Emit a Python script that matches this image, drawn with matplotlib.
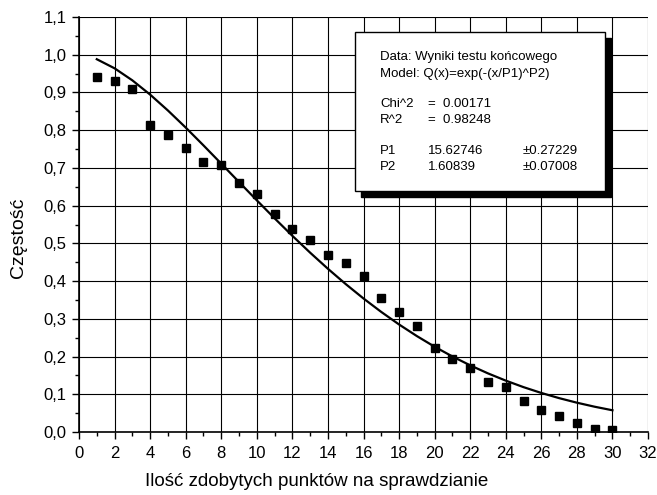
import matplotlib
matplotlib.use("Agg")
import matplotlib.pyplot as plt
from matplotlib.patches import Rectangle
from matplotlib.ticker import MultipleLocator, FuncFormatter

plt.rcParams['font.family'] = ['Liberation Sans', 'DejaVu Sans']

# measured data
x_pts = list(range(1, 31))
y_pts = [0.942, 0.930, 0.908, 0.813, 0.788, 0.752, 0.715, 0.707, 0.660, 0.632,
         0.577, 0.537, 0.508, 0.470, 0.447, 0.413, 0.355, 0.318, 0.280, 0.222,
         0.194, 0.170, 0.133, 0.120, 0.082, 0.058, 0.042, 0.025, 0.008, 0.005]

# fitted curve, read at integer x
x_fit = list(range(1, 31))
y_fit = [0.9881, 0.9640, 0.9321, 0.8943, 0.8522, 0.8070, 0.7597, 0.7113, 0.6626, 0.6141,
         0.5664, 0.5200, 0.4753, 0.4326, 0.3921, 0.3539, 0.3182, 0.2850, 0.2543, 0.2260,
         0.2002, 0.1767, 0.1554, 0.1362, 0.1189, 0.1035, 0.0898, 0.0777, 0.0670, 0.0576]

legend_lines = [
    ("Data: Wyniki testu końcowego", None, None),
    ("Model: Q(x)=exp(-(x/P1)^P2)", None, None),
    ("Chi^2", "=  0.00171", None),
    ("R^2", "=  0.98248", None),
    ("P1", "15.62746", "\u00b10.27229"),
    ("P2", "1.60839", "\u00b10.07008"),
]

W, H = 657, 495
fig = plt.figure(figsize=(W / 100, H / 100), dpi=100)
L, R, B, T = 79, 648, 432, 17
ax = fig.add_axes([L / W, 1 - B / H, (R - L) / W, (B - T) / H])

ax.set_xlim(0, 32)
ax.set_ylim(0, 1.1)
ax.xaxis.set_major_locator(MultipleLocator(2))
ax.xaxis.set_minor_locator(MultipleLocator(1))
ax.yaxis.set_major_locator(MultipleLocator(0.1))
ax.yaxis.set_minor_locator(MultipleLocator(0.05))
ax.yaxis.set_major_formatter(FuncFormatter(lambda v, p: f"{v:.1f}".replace('.', ',')))
ax.tick_params(which='major', direction='out', length=5, width=1, labelsize=12)
ax.tick_params(axis='x', which='major', pad=5)
ax.tick_params(axis='y', which='major', pad=4)
ax.tick_params(which='minor', direction='out', length=3, width=1)
for s in ['top', 'right']:
    ax.spines[s].set_visible(False)
for s in ['left', 'bottom']:
    ax.spines[s].set_linewidth(1.2)

ax.grid(True, which='major', color='black', linewidth=0.8)
ax.set_axisbelow(True)
fig.canvas.draw()
ax.get_ygridlines()[-1].set_visible(False)
ax.get_xgridlines()[-1].set_visible(False)

ax.plot(x_fit, y_fit, color='black', linewidth=1.6, zorder=3)
ax.plot(x_pts, y_pts, linestyle='none', marker='s', markersize=6,
        color='black', zorder=4)

def fx(px):
    return px / W

def fy(py):
    return 1 - py / H

# legend box with shadow
bx0, by0, bx1, by1 = 355, 32, 605, 191
sh = 6
fig.patches.append(Rectangle((fx(bx0 + sh), fy(by1 + sh)), (bx1 - bx0) / W, (by1 - by0) / H,
                             transform=fig.transFigure, facecolor='black', edgecolor='black',
                             zorder=5))
fig.patches.append(Rectangle((fx(bx0), fy(by1)), (bx1 - bx0) / W, (by1 - by0) / H,
                             transform=fig.transFigure, facecolor='white', edgecolor='black',
                             linewidth=1, zorder=6))

baselines = [60, 76.5, 107, 123, 154, 170]
for (a, b, c), yb in zip(legend_lines, baselines):
    fig.text(fx(380), fy(yb), a, fontsize=9.5, va='baseline', ha='left', zorder=7)
    if b is not None:
        fig.text(fx(428), fy(yb), b, fontsize=9.5, va='baseline', ha='left', zorder=7)
    if c is not None:
        fig.text(fx(523), fy(yb), c, fontsize=9.5, va='baseline', ha='left', zorder=7)

fig.text(fx(317), fy(481), "Ilość zdobytych punktów na sprawdzianie", fontsize=13.5,
         ha='center', va='center')
fig.text(fx(18), fy(238), "Częstość", fontsize=14, rotation=90,
         ha='center', va='center')

fig.savefig("out.png", dpi=100)
